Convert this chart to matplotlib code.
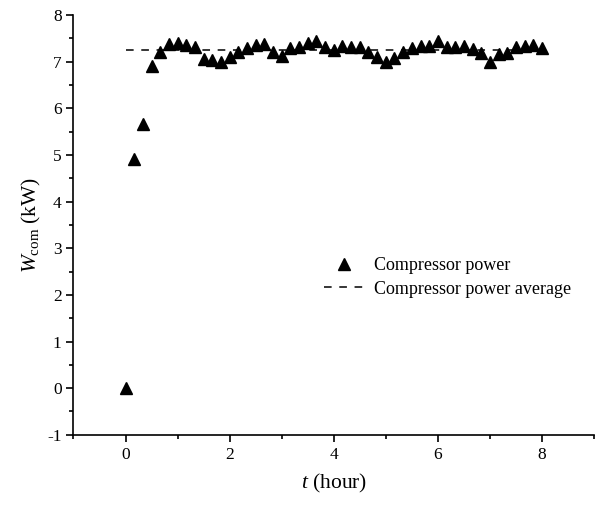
import numpy as np
import matplotlib
matplotlib.use("Agg")
import matplotlib.pyplot as plt
from matplotlib.ticker import MultipleLocator

# ============================
# DATOS
# ============================

# tiempo en horas, una medida cada 10 minutos
t_hour = np.arange(49) / 6.0

# potencia del compresor (kW)
w_com = [0.00, 4.92, 5.67, 6.91, 7.20, 7.39, 7.41, 7.36, 7.31, 7.07,
         7.04, 6.99, 7.10, 7.22, 7.29, 7.37, 7.38, 7.22, 7.13, 7.29,
         7.31, 7.41, 7.45, 7.31, 7.26, 7.34, 7.31, 7.32, 7.20, 7.10,
         6.99, 7.08, 7.21, 7.29, 7.34, 7.34, 7.45, 7.31, 7.31, 7.34,
         7.27, 7.18, 7.00, 7.16, 7.19, 7.32, 7.34, 7.36, 7.29]

# promedio de la potencia
avg_x = [0, 8]
avg_w = [7.25, 7.25]

# ============================
# GRAFICO
# ============================

plt.rcParams['font.family'] = ['Liberation Serif', 'DejaVu Serif']
plt.rcParams['mathtext.fontset'] = 'custom'
plt.rcParams['mathtext.rm'] = 'Liberation Serif'
plt.rcParams['mathtext.it'] = 'Liberation Serif:italic'
plt.rcParams['axes.unicode_minus'] = False

fig = plt.figure(figsize=(5.99, 5.05), dpi=100)
ax = fig.add_axes([0.1227, 0.139, 0.869, 0.831])

ax.plot(t_hour, w_com, linestyle='none', marker='^', color='black',
        markersize=8, label='Compressor power')
ax.plot(avg_x, avg_w, linestyle=(0, (5, 5)), color='black', linewidth=1.1,
        label='Compressor power average')

ax.set_xlim(-1, 9)
ax.set_ylim(-1, 8)
ax.xaxis.set_major_locator(MultipleLocator(2))
ax.xaxis.set_minor_locator(MultipleLocator(1))
ax.yaxis.set_major_locator(MultipleLocator(1))
ax.yaxis.set_minor_locator(MultipleLocator(0.5))
ax.set_xticks([0, 2, 4, 6, 8])

ax.spines['top'].set_visible(False)
ax.spines['right'].set_visible(False)
for s in ('left', 'bottom'):
    ax.spines[s].set_linewidth(1.2)

ax.tick_params(which='major', direction='out', length=5, width=1.2,
               labelsize=12.5)
ax.tick_params(which='minor', direction='out', length=3, width=1.2)

ax.set_xlabel(r'$t$ (hour)', fontsize=15.5, labelpad=7)
ax.set_ylabel(r'$W_{\mathrm{com}}$ (kW)', fontsize=15.5, labelpad=3)

ax.legend(loc='center left', bbox_to_anchor=(0.45, 0.375), frameon=False,
          fontsize=13, handlelength=2.2, handletextpad=0.55, labelspacing=0.35)

fig.savefig('out.png', dpi=100)
